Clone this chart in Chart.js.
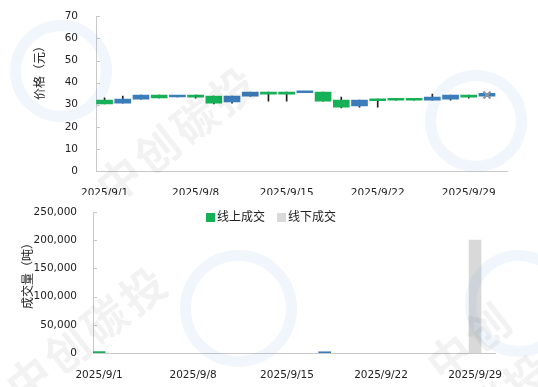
<!DOCTYPE html>
<html>
<head>
<meta charset="utf-8">
<script src="https://cdn.jsdelivr.net/npm/chart.js@4.4.0/dist/chart.umd.min.js"></script>
<style>
  body { margin: 0; background: #fff; width: 538px; height: 387px; overflow: hidden; position: relative; }
  #priceChart { position: absolute; left: 0; top: 0; }
  #volChart { position: absolute; left: 0; top: 195px; }
  #legend { position: absolute; top: 207px; left: 206px; font: 12px "Noto Sans CJK SC", sans-serif; color: #222; white-space: nowrap; }
  #legend span.box { display: inline-block; width: 9px; height: 9px; margin-right: 2px; vertical-align: -1px; }
  #legend span.item { margin-right: 12px; }
  .wm { position: absolute; pointer-events: none; }
  .wm-text { font: bold 44px "Noto Sans CJK SC", sans-serif; color: rgba(0,0,0,0.05); transform: rotate(-38deg); letter-spacing: 4px; }
  .wm-ring { border: 11px solid rgba(90,160,215,0.09); border-radius: 50%; }
</style>
</head>
<body>
<canvas id="priceChart" width="538" height="195"></canvas>
<canvas id="volChart" width="538" height="192"></canvas>
<div id="legend"></div>

<div class="wm wm-ring" style="left:10px;top:20px;width:80px;height:80px"></div>
<div class="wm wm-ring" style="left:425px;top:70px;width:80px;height:80px"></div>
<div class="wm wm-ring" style="left:180px;top:250px;width:95px;height:95px"></div>
<div class="wm wm-ring" style="left:465px;top:250px;width:85px;height:85px"></div>
<div class="wm wm-text" style="left:80px;top:100px">中创碳投</div>
<div class="wm wm-text" style="left:-10px;top:300px">中创碳投</div>
<div class="wm wm-text" style="left:440px;top:300px">中创碳投</div>

<script>
// 交易日
const dates = [
  '2025/9/1', '2025/9/2', '2025/9/3', '2025/9/4', '2025/9/5',
  '2025/9/8', '2025/9/9', '2025/9/10', '2025/9/11', '2025/9/12',
  '2025/9/15', '2025/9/16', '2025/9/17', '2025/9/18', '2025/9/19',
  '2025/9/22', '2025/9/23', '2025/9/24', '2025/9/25', '2025/9/26',
  '2025/9/29', '2025/9/30'
];

// K线数据（元）
const openP  = [30.3, 32.5, 34.3, 33.1, 33.8, 33.4, 30.7, 33.9, 35.7, 34.8, 34.8, 35.9, 31.6, 28.9, 32.1, 31.8, 32.0, 32.0, 33.4, 34.3, 33.4, 35.2];
const closeP = [32.1, 30.7, 32.5, 34.3, 33.5, 34.3, 33.9, 31.3, 33.9, 35.7, 35.7, 35.4, 35.7, 32.1, 29.4, 32.5, 32.5, 32.5, 32.1, 32.5, 34.3, 33.9];
const highP  = [33.1, 33.9, 34.3, 34.3, 33.8, 34.3, 33.9, 33.9, 35.7, 35.7, 35.7, 35.9, 35.7, 33.4, 32.1, 32.5, 32.5, 32.5, 34.8, 34.3, 34.3, 35.2];
const lowP   = [30.3, 30.7, 32.5, 33.1, 33.5, 33.0, 30.3, 30.7, 33.9, 31.6, 31.6, 35.4, 31.6, 28.5, 28.9, 28.9, 32.0, 32.0, 32.1, 32.1, 33.0, 33.9];
const markIndex = 21;
const markPrice = 34.4;

// 成交量（吨），无成交为 null
const volOnline  = [2500, null, null, null, null, null, null, null, null, null, null, null, null, null, null, null, null, null, null, null, null, null];
const volOffline = [null, null, null, null, null, null, null, null, null, null, null, null, null, null, null, null, null, null, null, null, 200000, null];
const volOther   = [null, null, null, null, null, null, null, null, null, null, null, null, 2200, null, null, null, null, null, null, null, null, null];

const priceTicks = [0, 10, 20, 30, 40, 50, 60, 70];
const volTicks = [0, 50000, 100000, 150000, 200000, 250000];
const labelIdx = [0, 5, 10, 15, 20];

const COLORS = {
  up: '#16b056',
  down: '#3b7cbb',
  wick: '#222',
  offline: '#d9d9d9',
  axis: '#c8c8c8',
  text: '#222'
};

const TICK_FONT = { family: '"DejaVu Sans", sans-serif', size: 10.5 };
const CJK = '"Noto Sans CJK SC", sans-serif';

// 坐标轴内侧刻度 + 竖排标题
function axisDecor(title, tx, ty) {
  return {
    id: 'axisDecor',
    afterDraw(chart) {
      const ctx = chart.ctx;
      const y = chart.scales.y;
      ctx.save();
      ctx.strokeStyle = COLORS.axis;
      ctx.lineWidth = 1;
      y.ticks.forEach(t => {
        const py = Math.round(y.getPixelForValue(t.value)) + 0.5;
        ctx.beginPath();
        ctx.moveTo(y.right, py);
        ctx.lineTo(y.right + 4, py);
        ctx.stroke();
      });
      ctx.translate(tx, ty);
      ctx.rotate(-Math.PI / 2);
      ctx.font = '12px ' + CJK;
      ctx.fillStyle = COLORS.text;
      ctx.textAlign = 'center';
      ctx.textBaseline = 'middle';
      ctx.fillText(title, 0, 0);
      ctx.restore();
    }
  };
}

function xAxis(min, max, height) {
  return {
    type: 'linear',
    min: min,
    max: max,
    offset: false,
    grid: { display: false, offset: false },
    border: { color: COLORS.axis },
    afterBuildTicks: s => { s.ticks = labelIdx.map(v => ({ value: v })); },
    afterFit: s => { s.height = height; },
    ticks: {
      autoSkip: false,
      maxRotation: 0,
      padding: 8,
      color: COLORS.text,
      font: TICK_FONT,
      callback: v => dates[v]
    }
  };
}

// 价格K线
new Chart(document.getElementById('priceChart'), {
  type: 'bar',
  data: {
    datasets: [
      {
        label: 'mark',
        type: 'line',
        showLine: false,
        data: [{ x: markIndex, y: markPrice }],
        pointStyle: 'crossRot',
        pointRadius: 5,
        borderColor: '#8b96a2',
        borderWidth: 2,
        order: 0
      },
      {
        label: 'body',
        data: dates.map((d, i) => ({ x: i, y: [openP[i], closeP[i]] })),
        backgroundColor: dates.map((d, i) => closeP[i] >= openP[i] ? COLORS.up : COLORS.down),
        barThickness: 16,
        minBarLength: 2,
        grouped: false,
        order: 1
      },
      {
        label: 'wick',
        data: dates.map((d, i) => ({ x: i, y: [lowP[i], highP[i]] })),
        backgroundColor: COLORS.wick,
        barThickness: 1,
        grouped: false,
        order: 2
      }
    ]
  },
  options: {
    responsive: false,
    animation: false,
    layout: { padding: { left: 0, right: 31, top: 15, bottom: 0 } },
    plugins: { legend: { display: false }, tooltip: { enabled: false } },
    scales: {
      x: xAxis(-0.47, 22.1, 24),
      y: {
        min: 0,
        max: 70,
        grid: { display: false },
        border: { color: COLORS.axis },
        afterBuildTicks: s => { s.ticks = priceTicks.map(v => ({ value: v })); },
        afterFit: s => { s.width = 96; },
        ticks: { padding: 10, color: COLORS.text, font: TICK_FONT }
      }
    }
  },
  plugins: [axisDecor('价格（元）', 39, 70)]
});

// 成交量
const volSeries = [
  { label: '线上成交', data: volOnline, color: COLORS.up, legend: true },
  { label: '线下成交', data: volOffline, color: COLORS.offline, legend: true },
  { label: '其他', data: volOther, color: COLORS.down, legend: false }
];

new Chart(document.getElementById('volChart'), {
  type: 'bar',
  data: {
    datasets: volSeries.map(s => ({
      label: s.label,
      data: s.data.map((v, i) => ({ x: i, y: v })),
      backgroundColor: s.color,
      barThickness: 12,
      grouped: false
    }))
  },
  options: {
    responsive: false,
    animation: false,
    layout: { padding: { left: 0, right: 43, top: 17, bottom: 0 } },
    plugins: { legend: { display: false }, tooltip: { enabled: false } },
    scales: {
      x: xAxis(-0.32, 21.06, 34),
      y: {
        min: 0,
        max: 250000,
        grid: { display: false },
        border: { color: COLORS.axis },
        afterBuildTicks: s => { s.ticks = volTicks.map(v => ({ value: v })); },
        afterFit: s => { s.width = 93; },
        ticks: {
          padding: 8,
          color: COLORS.text,
          font: TICK_FONT,
          callback: v => v.toLocaleString('en-US')
        }
      }
    }
  },
  plugins: [axisDecor('成交量（吨）', 27, 78)]
});

// 图例
document.getElementById('legend').innerHTML = volSeries
  .filter(s => s.legend)
  .map(s => `<span class="item"><span class="box" style="background:${s.color}"></span>${s.label}</span>`)
  .join('');
</script>
</body>
</html>
